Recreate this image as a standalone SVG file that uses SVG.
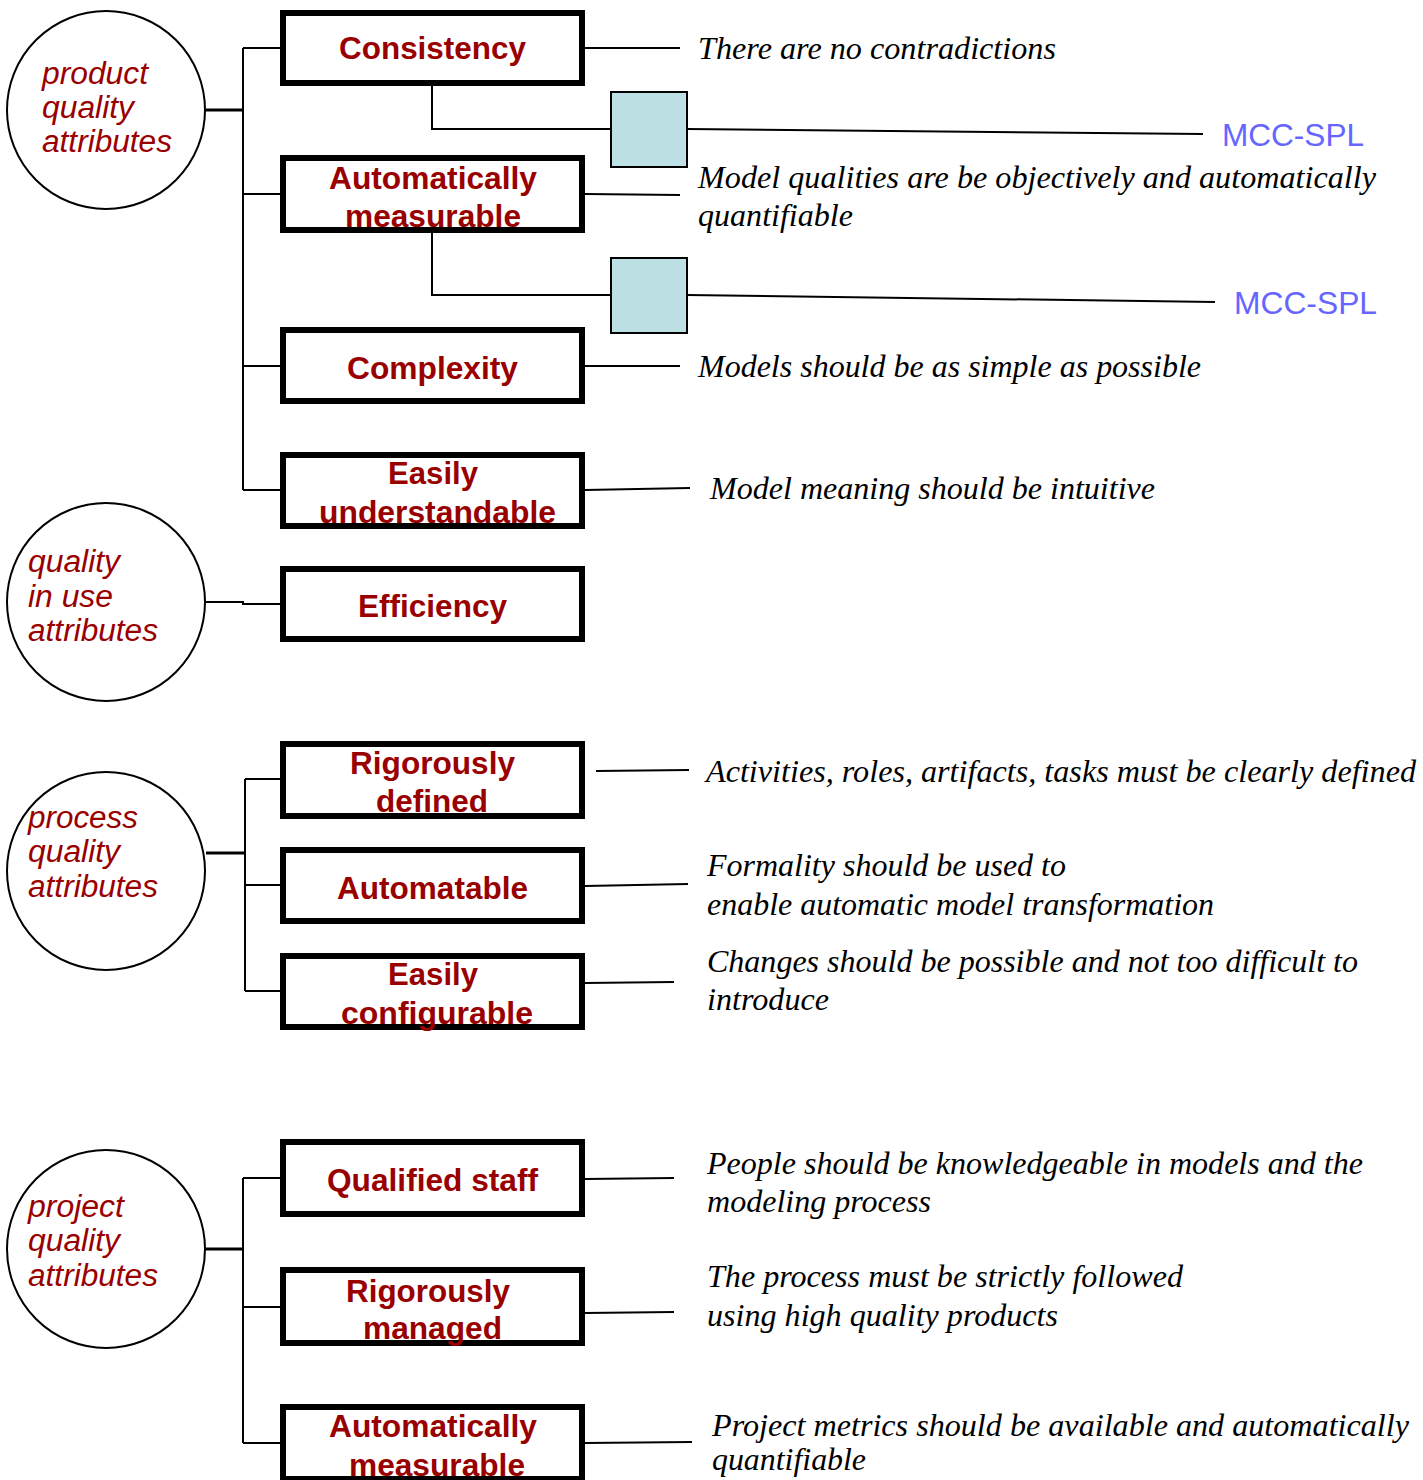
<svg xmlns="http://www.w3.org/2000/svg" width="1423" height="1480" viewBox="0 0 1423 1480">
  <style>
    .box rect { fill: #ffffff; stroke: #000000; stroke-width: 6; }
    .box text { font-family: "Liberation Sans", Arial, sans-serif; font-weight: bold; font-size: 32px; fill: #990000; }
    .cat ellipse { fill: #ffffff; stroke: #000000; stroke-width: 2; }
    .cat text { font-family: "Liberation Sans", Arial, sans-serif; font-style: italic; font-size: 31px; fill: #990000; }
    .desc text { font-family: "Liberation Serif", "Times New Roman", serif; font-style: italic; font-size: 31px; fill: #000000; }
    .tool rect { fill: #bce0e3; stroke: #000000; stroke-width: 2; }
    .tool text { font-family: "Liberation Sans", Arial, sans-serif; font-size: 32px; fill: #6666ff; }
    .links line, .links polyline { stroke: #000000; stroke-width: 2; fill: none; }
    .links .stem { stroke-width: 3; }
  </style>

  <!-- connectors -->
  <g id="connectors" class="links">
    <!-- product quality tree -->
    <line class="stem" x1="206" y1="110" x2="243" y2="110"/>
    <line x1="243" y1="48" x2="243" y2="490"/>
    <line x1="243" y1="48" x2="280" y2="48"/>
    <line x1="243" y1="194" x2="280" y2="194"/>
    <line x1="243" y1="366" x2="280" y2="366"/>
    <line x1="243" y1="490" x2="280" y2="490"/>
    <polyline points="432,86 432,129 611,129"/>
    <polyline points="432,233 432,295 611,295"/>
    <line x1="687" y1="129" x2="1203" y2="134"/>
    <line x1="687" y1="295" x2="1215" y2="302"/>
    <line x1="585" y1="48" x2="680" y2="48"/>
    <line x1="585" y1="194" x2="680" y2="195"/>
    <line x1="585" y1="366" x2="680" y2="366"/>
    <line x1="585" y1="490" x2="690" y2="488"/>
    <!-- quality in use -->
    <polyline points="206,602 243,602 243,604 280,604"/>
    <!-- process quality tree -->
    <line class="stem" x1="206" y1="853" x2="245" y2="853"/>
    <line x1="245" y1="779" x2="245" y2="991"/>
    <line x1="245" y1="779" x2="280" y2="779"/>
    <line x1="245" y1="885" x2="280" y2="885"/>
    <line x1="245" y1="991" x2="280" y2="991"/>
    <line x1="596" y1="771" x2="689" y2="770"/>
    <line x1="585" y1="886" x2="688" y2="884"/>
    <line x1="585" y1="983" x2="674" y2="982"/>
    <!-- project quality tree -->
    <line class="stem" x1="206" y1="1249" x2="243" y2="1249"/>
    <line x1="243" y1="1178" x2="243" y2="1443"/>
    <line x1="243" y1="1178" x2="280" y2="1178"/>
    <line x1="243" y1="1307" x2="280" y2="1307"/>
    <line x1="243" y1="1443" x2="280" y2="1443"/>
    <line x1="585" y1="1179" x2="674" y2="1178"/>
    <line x1="585" y1="1313" x2="674" y2="1312"/>
    <line x1="585" y1="1443" x2="692" y2="1442"/>
  </g>

  <!-- category circles -->
  <g id="cat-product" class="cat">
    <ellipse cx="106" cy="110" rx="99" ry="99"/>
    <text x="42" y="84" textLength="106" lengthAdjust="spacingAndGlyphs">product</text>
    <text x="42" y="118" textLength="92" lengthAdjust="spacingAndGlyphs">quality</text>
    <text x="42" y="152" textLength="130" lengthAdjust="spacingAndGlyphs">attributes</text>
  </g>
  <g id="cat-in-use" class="cat">
    <ellipse cx="106" cy="602" rx="99" ry="99"/>
    <text x="28" y="572" textLength="92" lengthAdjust="spacingAndGlyphs">quality</text>
    <text x="28" y="607" textLength="85" lengthAdjust="spacingAndGlyphs">in use</text>
    <text x="28" y="641" textLength="130" lengthAdjust="spacingAndGlyphs">attributes</text>
  </g>
  <g id="cat-process" class="cat">
    <ellipse cx="106" cy="871" rx="99" ry="99"/>
    <text x="28" y="828" textLength="110" lengthAdjust="spacingAndGlyphs">process</text>
    <text x="28" y="862" textLength="92" lengthAdjust="spacingAndGlyphs">quality</text>
    <text x="28" y="897" textLength="130" lengthAdjust="spacingAndGlyphs">attributes</text>
  </g>
  <g id="cat-project" class="cat">
    <ellipse cx="106" cy="1249" rx="99" ry="99"/>
    <text x="28" y="1217" textLength="96" lengthAdjust="spacingAndGlyphs">project</text>
    <text x="28" y="1251" textLength="92" lengthAdjust="spacingAndGlyphs">quality</text>
    <text x="28" y="1286" textLength="130" lengthAdjust="spacingAndGlyphs">attributes</text>
  </g>

  <!-- attribute boxes -->
  <g id="consistency" class="box">
    <rect x="283" y="13" width="299" height="70"/>
    <text x="339" y="59" textLength="187" lengthAdjust="spacingAndGlyphs">Consistency</text>
  </g>
  <g id="auto-measurable" class="box">
    <rect x="283" y="158" width="299" height="72"/>
    <text x="329" y="189" textLength="208" lengthAdjust="spacingAndGlyphs">Automatically</text>
    <text x="345" y="227" textLength="176" lengthAdjust="spacingAndGlyphs">measurable</text>
  </g>
  <g id="complexity" class="box">
    <rect x="283" y="330" width="299" height="71"/>
    <text x="347" y="379" textLength="171" lengthAdjust="spacingAndGlyphs">Complexity</text>
  </g>
  <g id="easily-understandable" class="box">
    <rect x="283" y="455" width="299" height="71"/>
    <text x="388" y="484" textLength="90" lengthAdjust="spacingAndGlyphs">Easily</text>
    <text x="319" y="523" textLength="237" lengthAdjust="spacingAndGlyphs">understandable</text>
  </g>
  <g id="efficiency" class="box">
    <rect x="283" y="569" width="299" height="70"/>
    <text x="358" y="617" textLength="149" lengthAdjust="spacingAndGlyphs">Efficiency</text>
  </g>
  <g id="rigorously-defined" class="box">
    <rect x="283" y="744" width="299" height="72"/>
    <text x="350" y="774" textLength="165" lengthAdjust="spacingAndGlyphs">Rigorously</text>
    <text x="376" y="812" textLength="112" lengthAdjust="spacingAndGlyphs">defined</text>
  </g>
  <g id="automatable" class="box">
    <rect x="283" y="850" width="299" height="71"/>
    <text x="337" y="899" textLength="191" lengthAdjust="spacingAndGlyphs">Automatable</text>
  </g>
  <g id="easily-configurable" class="box">
    <rect x="283" y="956" width="299" height="71"/>
    <text x="388" y="985" textLength="90" lengthAdjust="spacingAndGlyphs">Easily</text>
    <text x="341" y="1024" textLength="192" lengthAdjust="spacingAndGlyphs">configurable</text>
  </g>
  <g id="qualified-staff" class="box">
    <rect x="283" y="1142" width="299" height="72"/>
    <text x="327" y="1191" textLength="211" lengthAdjust="spacingAndGlyphs">Qualified staff</text>
  </g>
  <g id="rigorously-managed" class="box">
    <rect x="283" y="1270" width="299" height="73"/>
    <text x="346" y="1302" textLength="164" lengthAdjust="spacingAndGlyphs">Rigorously</text>
    <text x="363" y="1339" textLength="139" lengthAdjust="spacingAndGlyphs">managed</text>
  </g>
  <g id="project-auto-measurable" class="box">
    <rect x="283" y="1407" width="299" height="72"/>
    <text x="329" y="1437" textLength="208" lengthAdjust="spacingAndGlyphs">Automatically</text>
    <text x="349" y="1476" textLength="176" lengthAdjust="spacingAndGlyphs">measurable</text>
  </g>

  <!-- tool markers -->
  <g id="mcc-spl-1" class="tool">
    <rect x="611" y="92" width="76" height="75"/>
    <text x="1222" y="146" textLength="142" lengthAdjust="spacingAndGlyphs">MCC-SPL</text>
  </g>
  <g id="mcc-spl-2" class="tool">
    <rect x="611" y="258" width="76" height="75"/>
    <text x="1234" y="314" textLength="143" lengthAdjust="spacingAndGlyphs">MCC-SPL</text>
  </g>

  <!-- descriptions -->
  <g id="descriptions" class="desc">
    <text x="698" y="59" textLength="358" lengthAdjust="spacingAndGlyphs">There are no contradictions</text>
    <text x="698" y="188" textLength="678" lengthAdjust="spacingAndGlyphs">Model qualities are be objectively and automatically</text>
    <text x="698" y="226" textLength="155" lengthAdjust="spacingAndGlyphs">quantifiable</text>
    <text x="698" y="377" textLength="503" lengthAdjust="spacingAndGlyphs">Models should be as simple as possible</text>
    <text x="710" y="499" textLength="445" lengthAdjust="spacingAndGlyphs">Model meaning should be intuitive</text>
    <text x="706" y="782" textLength="710" lengthAdjust="spacingAndGlyphs">Activities, roles, artifacts, tasks must be clearly defined</text>
    <text x="707" y="876" textLength="359" lengthAdjust="spacingAndGlyphs">Formality should be used to</text>
    <text x="707" y="915" textLength="507" lengthAdjust="spacingAndGlyphs">enable automatic model transformation</text>
    <text x="707" y="972" textLength="651" lengthAdjust="spacingAndGlyphs">Changes should be possible and not too difficult to</text>
    <text x="707" y="1010" textLength="122" lengthAdjust="spacingAndGlyphs">introduce</text>
    <text x="707" y="1174" textLength="656" lengthAdjust="spacingAndGlyphs">People should be knowledgeable in models and the</text>
    <text x="707" y="1212" textLength="224" lengthAdjust="spacingAndGlyphs">modeling process</text>
    <text x="707" y="1287" textLength="476" lengthAdjust="spacingAndGlyphs">The process must be strictly followed</text>
    <text x="707" y="1326" textLength="351" lengthAdjust="spacingAndGlyphs">using high quality products</text>
    <text x="712" y="1436" textLength="697" lengthAdjust="spacingAndGlyphs">Project metrics should be available and automatically</text>
    <text x="712" y="1470" textLength="154" lengthAdjust="spacingAndGlyphs">quantifiable</text>
  </g>
</svg>
